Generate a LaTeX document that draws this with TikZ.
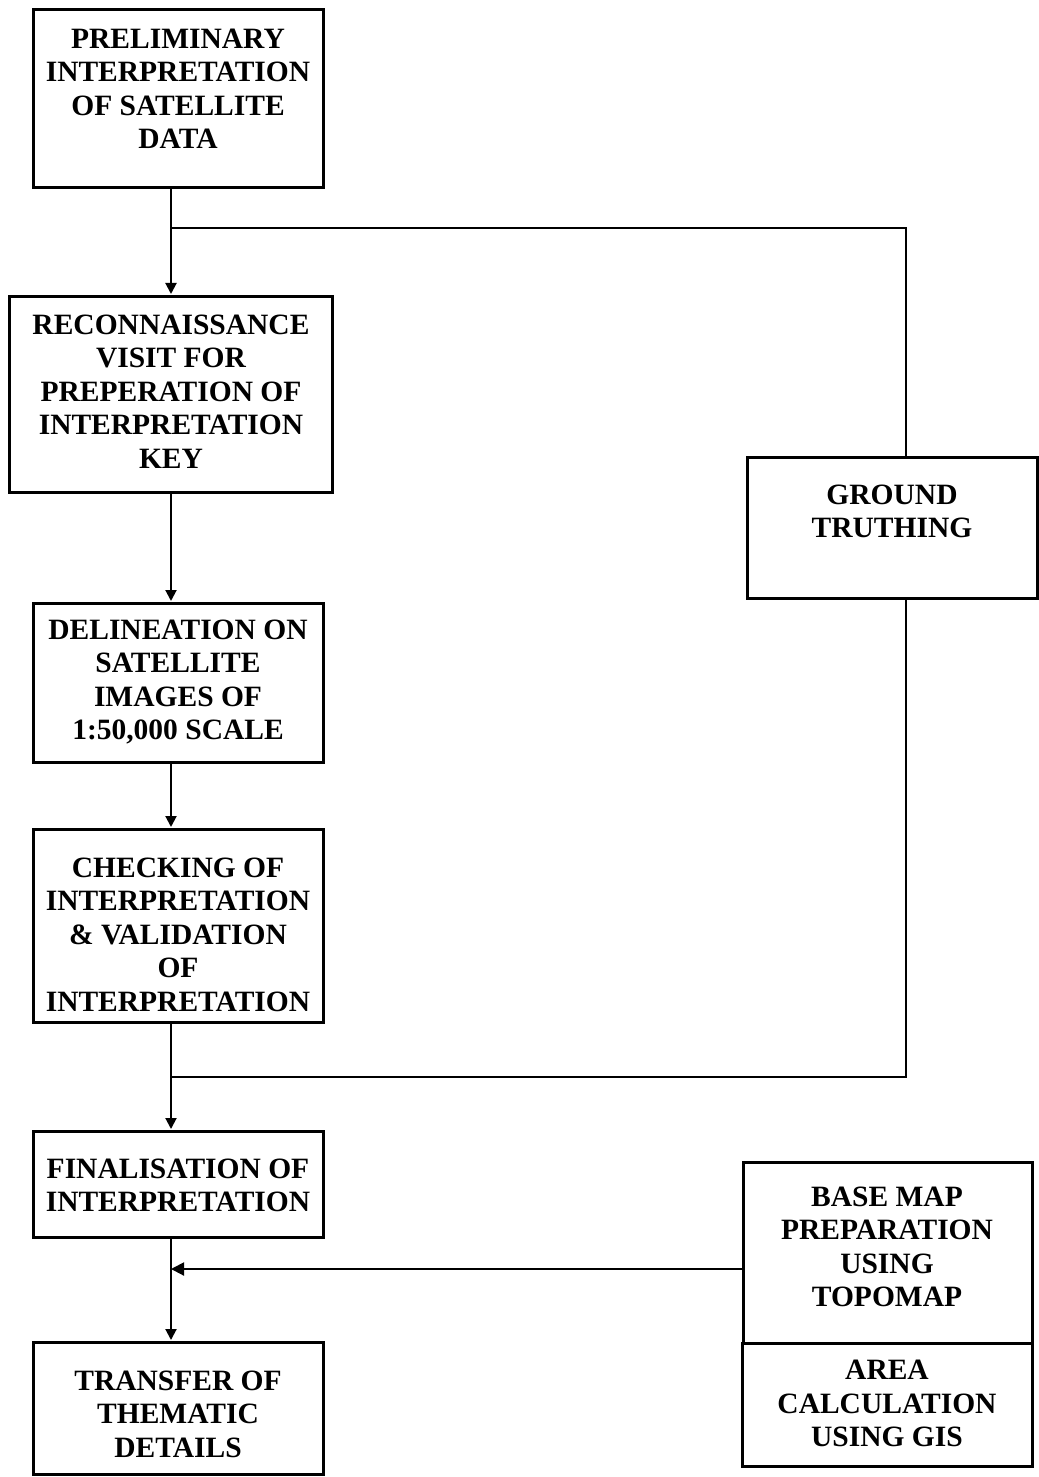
\documentclass[tikz,border=0pt]{standalone}
\usepackage{fontspec}
\setmainfont{Liberation Serif}
\usetikzlibrary{arrows.meta}
\begin{document}
\begin{tikzpicture}[x=1bp,y=-1bp,
  boxst/.style={draw, line width=3bp, inner sep=0pt, outer sep=0pt, rectangle},
  txt/.style={inner sep=0pt, align=center, font=\fontsize{29.5bp}{33.5bp}\selectfont\bfseries},
  conn/.style={line width=2bp},
  arr/.style={line width=2bp, -{Triangle[length=11bp,width=11bp]}, shorten >=2bp}]
\useasboundingbox (0,0) rectangle (1038,1477);
\fill[white] (0,0) rectangle (1038,1477);
% boxes
\node[boxst, minimum width=289bp, minimum height=177bp] (b1) at (178.5,98.5) {};
\node[boxst, minimum width=322bp, minimum height=196bp] (b2) at (171,394) {};
\node[boxst, minimum width=289bp, minimum height=159bp] (b3) at (178.5,682.5) {};
\node[boxst, minimum width=289bp, minimum height=193bp] (b4) at (178.5,925.5) {};
\node[boxst, minimum width=289bp, minimum height=106bp] (b5) at (178.5,1184) {};
\node[boxst, minimum width=289bp, minimum height=132bp] (b6) at (178.5,1408) {};
\node[boxst, minimum width=290bp, minimum height=141bp] (gt) at (892,527.5) {};
\node[boxst, minimum width=289bp, minimum height=181bp] (bm) at (887.5,1252.5) {};
\node[boxst, minimum width=290bp, minimum height=123bp] (ar) at (887,1404.5) {};
% texts
\node[txt] (t1) at (178,89) {PRELIMINARY\\INTERPRETATION\\OF SATELLITE\\DATA};
\node[txt] (t2) at (171,391.5) {RECONNAISSANCE\\VISIT FOR\\PREPERATION OF\\INTERPRETATION\\KEY};
\node[txt] (t3) at (178,682) {DELINEATION ON\\SATELLITE\\IMAGES OF\\1:50,000 SCALE};
\node[txt] (t4) at (178,934.5) {CHECKING OF\\INTERPRETATION\\\& VALIDATION\\OF\\INTERPRETATION};
\node[txt] (t5) at (178,1185.5) {FINALISATION OF\\INTERPRETATION};
\node[txt] (t6) at (178,1414) {TRANSFER OF\\THEMATIC\\DETAILS};
\node[txt] (tgt) at (892,511.5) {GROUND\\TRUTHING};
\node[txt] (tbm) at (887,1247) {BASE MAP\\PREPARATION\\USING\\TOPOMAP};
\node[txt] (tar) at (887,1403.5) {AREA\\CALCULATION\\USING GIS};
% helper coordinates
\coordinate (spine) at (171,0);
\coordinate (gtx) at (906,0);
\coordinate (j1) at (171,228);
\coordinate (j2) at (171,1077);
\coordinate (j3) at (171,1269);
% connectors
\draw[arr] (b1.south -| spine) -- (b2.north -| spine);
\draw[conn] (j1) -- (j1 -| gtx) -- (gt.north -| gtx);
\draw[arr] (b2.south -| spine) -- (b3.north -| spine);
\draw[arr] (b3.south -| spine) -- (b4.north -| spine);
\draw[arr] (b4.south -| spine) -- (b5.north -| spine);
\draw[conn] (gt.south -| gtx) -- (j2 -| gtx) -- (j2);
\draw[arr] (b5.south -| spine) -- (b6.north -| spine);
\draw[line width=2bp, -{Triangle[length=13bp,width=13bp]}] (bm.west |- j3) -- (j3);
\end{tikzpicture}
\end{document}
